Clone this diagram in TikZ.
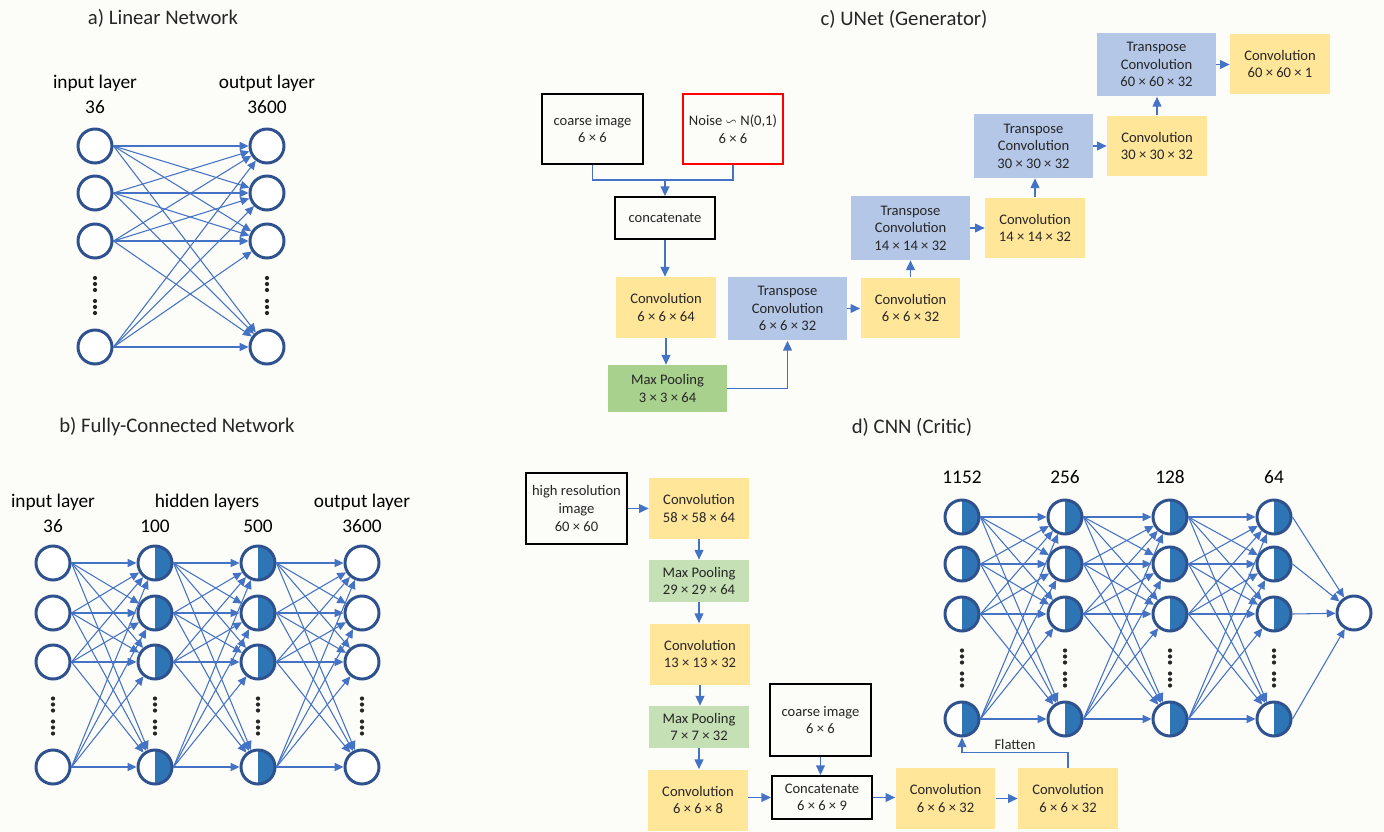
\documentclass[tikz,border=0pt]{standalone}
\usepackage{amssymb}
\usepackage{amsmath}
\usepackage{fontspec}
\setmainfont{Carlito}
\usepackage{tikz}
\usetikzlibrary{arrows.meta,calc}

\definecolor{bgc}{RGB}{252,252,248}
\definecolor{cyellow}{RGB}{255,230,153}
\definecolor{cgreen}{RGB}{169,209,142}
\definecolor{cgreenl}{RGB}{197,224,180}
\definecolor{cblue}{RGB}{180,199,231}
\definecolor{cline}{RGB}{68,114,196}
\definecolor{ndark}{RGB}{47,82,143}
\definecolor{nfill}{RGB}{46,117,182}
\newcommand{\boxfont}{\fontsize{8.3}{10}\selectfont}
\newcommand{\labfont}{\fontsize{11}{13}\selectfont}
\newcommand{\ttlfont}{\fontsize{11.8}{14}\selectfont}

\begin{document}
\begin{tikzpicture}[x=0.02cm, y=-0.02cm,
    neuron/.style={circle, draw=ndark, line width=1.7pt, fill=white, minimum size=0.68cm, inner sep=0pt},
    hneuron/.style={neuron, path picture={\fill[nfill] (path picture bounding box.north) rectangle (path picture bounding box.south east);}},
    edge/.style={cline, line width=0.6pt, -{Triangle[length=5pt, width=4.6pt]}},
    arr/.style={cline, line width=0.8pt, -{Triangle[length=5.5pt, width=5pt]}},
    box/.style={rectangle, inner sep=1pt, align=center, font=\boxfont, text=black!85},
    inbox/.style={box, draw=black, line width=1.1pt},
    conv/.style={box, fill=cyellow, minimum width=2cm, minimum height=1.22cm},
    pool/.style={box, fill=cgreenl, minimum width=2cm, minimum height=0.84cm},
    tconv/.style={box, fill=cblue, minimum width=2.38cm, minimum height=1.28cm},
    lab/.style={font=\labfont, text=black, inner sep=0pt},
    ttl/.style={font=\ttlfont, text=black!85, inner sep=0pt}]
    \fill[bgc] (0,0) rectangle (1384,832); \useasboundingbox (0,0) rectangle (1384,832);

    \node[ttl] (ta) at (163,18) {a) Linear Network}; \node[ttl] (tb) at (177,427) {b) Fully-Connected Network};
    \node[ttl] (tc) at (904,19) {c) UNet (Generator)}; \node[ttl] (td) at (912,427) {d) CNN (Critic)};

    % a) linear network
    \node[lab] (ainl) at (95,83) {input layer}; \node[lab] (ainn) at (95,107) {36};
    \node[lab] (aoutl) at (267,83) {output layer}; \node[lab] (aoutn) at (267,107) {3600};
    \foreach \i/\y in {1/146,2/193,3/241,4/347} {
        \node[neuron] (ain\i) at (95,\y) {}; \node[neuron] (aout\i) at (267,\y) {};
    }
    \foreach \i in {1,...,4} \foreach \j in {1,...,4} \draw[edge] (ain\i.east) -- (aout\j);

    % b) fully-connected network
    \node[lab] (binl) at (53,502) {input layer}; \node[lab] (binn) at (53,526) {36};
    \node[lab] (bhl) at (207,502) {hidden layers}; \node[lab] (bhan) at (155,526) {100}; \node[lab] (bhbn) at (258,526) {500};
    \node[lab] (boutl) at (362,502) {output layer}; \node[lab] (boutn) at (362,526) {3600};
    \foreach \i/\y in {1/563,2/613,3/662,4/767} {
        \node[neuron] (bin\i) at (53,\y) {}; \node[hneuron] (bha\i) at (155,\y) {};
        \node[hneuron] (bhb\i) at (258,\y) {}; \node[neuron] (bout\i) at (362,\y) {};
    }
    \foreach \i in {1,...,4} \foreach \j in {1,...,4} {
        \draw[edge] (bin\i.east) -- (bha\j); \draw[edge] (bha\i.east) -- (bhb\j); \draw[edge] (bhb\i.east) -- (bout\j);
    }

    % c) generator
    \node[inbox, minimum width=2.02cm, minimum height=1.4cm] (coarse) at (592.5,129) {coarse image\\6 × 6};
    \node[inbox, draw=red, minimum width=2cm, minimum height=1.4cm] (noise) at (733,129) {Noise $\backsim$ N(0,1)\\6 × 6};
    \node[inbox, minimum width=2cm, minimum height=0.84cm] (concat) at (665,218) {concatenate};
    \node[conv] (conv64) at (666,307.5) {Convolution\\6 × 6 × 64};
    \node[pool, fill=cgreen, minimum width=2.38cm, minimum height=0.94cm] (pool64) at (667.5,388.5) {Max Pooling\\3 × 3 × 64};
    \node[tconv] (tconv6) at (787.5,308.5) {Transpose\\Convolution\\6 × 6 × 32};
    \node[conv] (conv6) at (910.5,308) {Convolution\\6 × 6 × 32};
    \node[tconv] (tconv14) at (910.5,228) {Transpose\\Convolution\\14 × 14 × 32};
    \node[conv] (conv14) at (1035,228) {Convolution\\14 × 14 × 32};
    \node[tconv] (tconv30) at (1033.5,146) {Transpose\\Convolution\\30 × 30 × 32};
    \node[conv] (conv30) at (1157,146) {Convolution\\30 × 30 × 32};
    \node[tconv] (tconv60) at (1156.5,64.5) {Transpose\\Convolution\\60 × 60 × 32};
    \node[conv] (conv60) at (1280,64) {Convolution\\60 × 60 × 1};

    \coordinate (cj) at (665,180);
    \draw[cline, line width=0.8pt] (coarse.south) |- (cj) -| (noise.south);
    \draw[arr] (cj) -- (concat.north); \draw[arr] (concat.south) -- (concat.south |- conv64.north);
    \draw[arr] (conv64.south) -- (conv64.south |- pool64.north);
    \draw[arr] (pool64.east) -| (tconv6.south);
    \draw[arr] (tconv6.east) -- (tconv6.east -| conv6.west); \draw[arr] (conv6.north) -- (tconv14.south);
    \draw[arr] (tconv14.east) -- (tconv14.east -| conv14.west); \draw[arr] (conv14.north) -- (conv14.north |- tconv30.south);
    \draw[arr] (tconv30.east) -- (tconv30.east -| conv30.west); \draw[arr] (conv30.north) -- (conv30.north |- tconv60.south);
    \draw[arr] (tconv60.east) -- (tconv60.east -| conv60.west);

    % d) critic
    \node[inbox, minimum width=2.02cm, minimum height=1.42cm] (hires) at (576.5,508.5) {high resolution\\image\\60 × 60};
    \node[conv] (convA) at (699,508.5) {Convolution\\58 × 58 × 64};
    \node[pool] (poolA) at (699,581) {Max Pooling\\29 × 29 × 64};
    \node[conv] (convB) at (700,654) {Convolution\\13 × 13 × 32};
    \node[pool] (poolB) at (699,727) {Max Pooling\\7 × 7 × 32};
    \node[conv] (convC) at (698,800) {Convolution\\6 × 6 × 8};
    \node[inbox, minimum width=2.02cm, minimum height=1.44cm] (coarse2) at (820.5,720) {coarse image\\6 × 6};
    \node[inbox, minimum width=2cm, minimum height=0.86cm] (concat2) at (822,797.5) {Concatenate\\6 × 6 × 9};
    \node[conv] (convD) at (945.5,798.5) {Convolution\\6 × 6 × 32};
    \node[conv] (convE) at (1068,798.5) {Convolution\\6 × 6 × 32};

    \draw[arr] (hires.east) -- (hires.east -| convA.west);
    \draw[arr] (convA.south) -- (convA.south |- poolA.north); \draw[arr] (poolA.south) -- (poolA.south |- convB.north);
    \draw[arr] (convB.south) -- (convB.south |- poolB.north); \draw[arr] (poolB.south) -- (poolB.south |- convC.north);
    \draw[arr] (convC.east |- concat2.west) -- (concat2.west); \draw[arr] (coarse2.south) -- (coarse2.south |- concat2.north);
    \draw[arr] (concat2.east) -- (concat2.east -| convD.west); \draw[arr] (convD.east) -- (convE.west);

    \foreach \l/\x/\n in {0/962/1152,1/1065/256,2/1170/128,3/1274/64} {
        \node[lab] (dn\l) at (\x,477) {\n};
        \foreach \i/\y in {1/517,2/564,3/614,4/719} \node[hneuron] (d\l\i) at (\x,\y) {};
    }
    \node[neuron] (dout) at (1354,613) {};
    \foreach \i in {1,...,4} {
        \foreach \j in {1,...,4} {
            \draw[edge] (d0\i.east) -- (d1\j); \draw[edge] (d1\i.east) -- (d2\j); \draw[edge] (d2\i.east) -- (d3\j);
        }
        \draw[edge] (d3\i.east) -- (dout);
    }
    \draw[arr] (convE.north) -- ++(0,-15) -| (d04.south) node[pos=0.25, above, font=\boxfont, text=black!85, inner sep=1.5pt] (flat) {Flatten};

    % dots
    \foreach \x/\m in {95/294,267/294,53/714.5,155/714.5,258/714.5,362/714.5,962/666.5,1065/666.5,1170/666.5,1274/666.5}
        \foreach \d in {-16,-10,-4,7,13,19} \fill[black!85] (\x,{\m+\d}) circle (1.2pt);
\end{tikzpicture}
\end{document}
